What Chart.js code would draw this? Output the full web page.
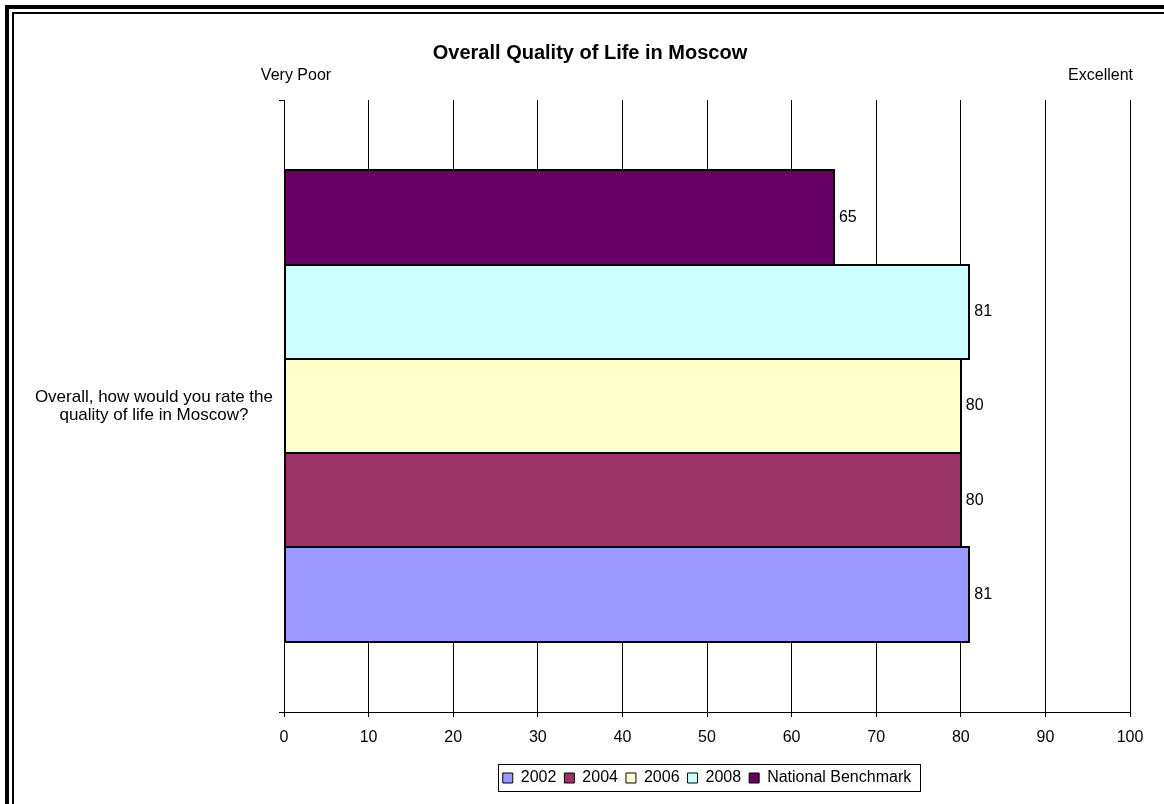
<!DOCTYPE html>
<html>
<head>
<meta charset="utf-8">
<title>Overall Quality of Life in Moscow</title>
<script src="https://cdn.jsdelivr.net/npm/chart.js@4.4.1/dist/chart.umd.min.js"></script>
<style>
  html, body { margin: 0; padding: 0; background: #fff; }
  #wrap { width: 1164px; height: 804px; }
</style>
</head>
<body>
<div id="wrap">
  <canvas id="qolChart" width="1164" height="804"></canvas>
</div>
<script>
// survey question (one category) and the series drawn for it
const questionLabel = ["Overall, how would you rate the", "quality of life in Moscow?"];
const seriesNames = ["2002", "2004", "2006", "2008", "National Benchmark"];
const seriesValues = [81, 80, 80, 81, 65];
const seriesColors = ["#9999FF", "#993366", "#FFFFCC", "#CCFFFF", "#660066"];
const scaleEnds = ["Very Poor", "Excellent"];
const scaleMin = 0;
const scaleMax = 100;
const scaleStep = 10;

const FONT = "'Liberation Sans', Arial, sans-serif";
Chart.defaults.font.family = FONT;
Chart.defaults.font.size = 16;
Chart.defaults.color = "#000";

// Excel stacks the first series at the bottom, so feed them in reverse
const datasets = seriesNames.map((name, i) => ({
    label: name,
    data: [seriesValues[i]],
    backgroundColor: seriesColors[i],
    borderColor: "#000",
    borderWidth: 0
})).reverse();

// double frame round the whole sheet
const framePlugin = {
    id: "frame",
    beforeDraw(chart) {
        const ctx = chart.ctx;
        ctx.save();
        ctx.fillStyle = "#fff";
        ctx.fillRect(0, 0, chart.width, chart.height);
        ctx.strokeStyle = "#000";
        ctx.lineWidth = 4;
        ctx.strokeRect(7, 7, chart.width + 20, chart.height - 4);
        ctx.lineWidth = 2;
        ctx.beginPath();
        ctx.moveTo(13, chart.height);
        ctx.lineTo(13, 13);
        ctx.lineTo(chart.width, 13);
        ctx.stroke();
        ctx.restore();
    }
};

// title centred on the sheet, legend centred under the plot area
const placePlugin = {
    id: "place",
    afterLayout(chart) {
        const tb = chart.titleBlock;
        if (tb) {
            tb.left = 50;
            tb.width = tb.right - tb.left;
        }
        const lg = chart.legend;
        if (lg) {
            lg.left = chart.chartArea.left;
            lg.right = chart.chartArea.right;
            lg.width = lg.right - lg.left;
        }
    },
    afterDraw(chart) {
        const boxes = chart.legend && chart.legend.legendHitBoxes;
        if (!boxes || !boxes.length) return;
        let l = Infinity, r = -Infinity, t = Infinity, b = -Infinity;
        boxes.forEach(h => {
            l = Math.min(l, h.left);
            r = Math.max(r, h.left + h.width);
            t = Math.min(t, h.top);
            b = Math.max(b, h.top + h.height);
        });
        const ctx = chart.ctx;
        ctx.save();
        ctx.strokeStyle = "#000";
        ctx.lineWidth = 1;
        ctx.strokeRect(Math.round(l - 5) + 0.5, Math.round(t - 6) + 0.5,
                       Math.round(r - l + 14), Math.round(b - t + 11));
        ctx.restore();
    }
};

// outline each bar on its edges (shared edges overlap into one line),
// value at the end of each bar, plus the scale end captions
const labelPlugin = {
    id: "barLabels",
    afterDatasetsDraw(chart) {
        const ctx = chart.ctx;
        const area = chart.chartArea;
        ctx.save();
        ctx.strokeStyle = "#000";
        ctx.lineWidth = 2;
        chart.data.datasets.forEach((ds, i) => {
            chart.getDatasetMeta(i).data.forEach(bar => {
                const p = bar.getProps(["x", "y", "base", "height"], true);
                const x0 = Math.round(p.base), x1 = Math.round(p.x);
                const y0 = Math.round(p.y - p.height / 2), y1 = Math.round(p.y + p.height / 2);
                ctx.strokeRect(x0, y0, x1 - x0, y1 - y0);
            });
        });

        ctx.font = "16px " + FONT;
        ctx.fillStyle = "#000";
        ctx.textBaseline = "middle";
        ctx.textAlign = "left";
        chart.data.datasets.forEach((ds, i) => {
            chart.getDatasetMeta(i).data.forEach((bar, j) => {
                ctx.fillText(String(ds.data[j]), bar.x + 5, bar.y);
            });
        });
        ctx.textAlign = "center";
        ctx.fillText(scaleEnds[0], area.left + 12, area.top - 24);
        ctx.textAlign = "right";
        ctx.fillText(scaleEnds[1], area.right + 3, area.top - 24);
        ctx.restore();
    }
};

new Chart(document.getElementById("qolChart"), {
    type: "bar",
    data: {
        labels: [questionLabel],
        datasets: datasets
    },
    options: {
        indexAxis: "y",
        responsive: false,
        animation: false,
        devicePixelRatio: 1,
        categoryPercentage: 0.77,
        barPercentage: 1,
        layout: {
            padding: { left: 20, right: 34, top: 14, bottom: 8 }
        },
        scales: {
            x: {
                min: scaleMin,
                max: scaleMax,
                ticks: { stepSize: scaleStep, padding: 11, color: "#000" },
                grid: { color: "#000", tickLength: 5 },
                border: { color: "#000" },
                afterFit: (s) => { s.height = 50; }
            },
            y: {
                grid: { offset: true, drawOnChartArea: false, tickLength: 5, color: "#000" },
                border: { display: true, color: "#000" },
                ticks: {
                    crossAlign: "center",
                    padding: 6,
                    color: "#000",
                    font: { size: 17, lineHeight: 1.06 }
                },
                afterFit: (s) => { s.width = 264; }
            }
        },
        plugins: {
            title: {
                display: true,
                text: "Overall Quality of Life in Moscow",
                color: "#000",
                font: { size: 20, weight: "bold" },
                padding: { top: 27, bottom: 35 }
            },
            legend: {
                position: "bottom",
                reverse: true,
                labels: {
                    boxWidth: 10,
                    boxHeight: 10,
                    padding: 8,
                    color: "#000",
                    font: { size: 16 },
                    generateLabels(chart) {
                        const items = Chart.defaults.plugins.legend.labels.generateLabels(chart);
                        items.forEach(it => { it.lineWidth = 1; it.strokeStyle = "#000"; });
                        return items;
                    }
                }
            },
            tooltip: { enabled: false }
        }
    },
    plugins: [framePlugin, placePlugin, labelPlugin]
});
</script>
</body>
</html>
